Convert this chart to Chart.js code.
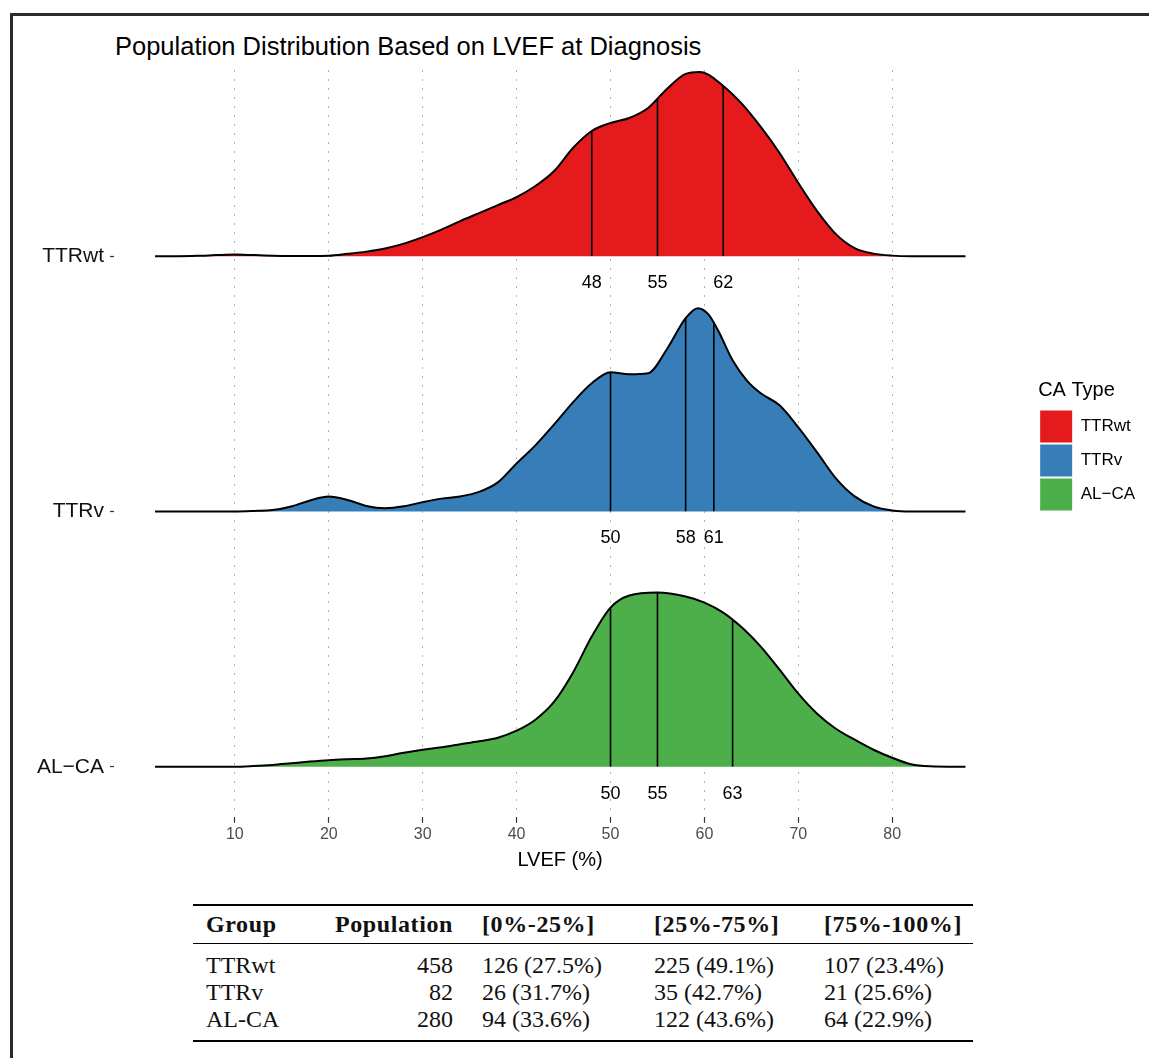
<!DOCTYPE html>
<html>
<head>
<meta charset="utf-8">
<script src="https://cdn.jsdelivr.net/npm/chart.js@4.4.1/dist/chart.umd.min.js"></script>
<style>
  html, body { margin: 0; padding: 0; background: #fff; width: 1149px; height: 1058px; overflow: hidden; }
  #frame { position: absolute; left: 10px; top: 13px; width: 2000px; height: 2000px;
           border-left: 3px solid #2b2b2b; border-top: 3px solid #2b2b2b; }
  #title { position: absolute; left: 115px; top: 34px; font: 25.5px/25px "Liberation Sans", Arial, sans-serif; color: #000; white-space: nowrap; }
  #ridges { position: absolute; left: 0; top: 0; }
  #stats { position: absolute; left: 193px; top: 904px; width: 780px; border-collapse: collapse; table-layout: fixed;
           font-family: "Liberation Serif", "Times New Roman", serif; font-size: 24px; color: #111;
           border-top: 2px solid #000; border-bottom: 2px solid #000; }
  #stats th { font-weight: bold; line-height: 37px; padding: 0; border-bottom: 1px solid #000; text-align: left; letter-spacing: 0.6px; }
  #stats td { line-height: 27px; padding: 0; white-space: nowrap; }
  #stats tbody tr:first-child td { padding-top: 8px; }
  #stats tbody tr:last-child td { padding-bottom: 7px; }
  #stats .c1 { padding-left: 13px; width: 104px; }
  #stats th.c2, #stats td.c2 { text-align: right; padding-right: 10px; width: 143px; }
  #stats .c3 { padding-left: 19px; width: 153px; }
  #stats .c4 { padding-left: 19px; width: 151px; }
  #stats .c5 { padding-left: 19px; }
</style>
</head>
<body>
<div id="frame"></div>
<div id="title">Population Distribution Based on LVEF at Diagnosis</div>
<canvas id="ridges" width="1149" height="886"></canvas>
<table id="stats"></table>
<script>
// groups, top ridge first
const groups = ['TTRwt', 'TTRv', 'AL-CA'];
const groupColors = ['#E41A1C', '#377EB8', '#4DAF4A'];
const ridgeRows = [2, 1, 0];

// density (relative units, 255 = one ridge row)
const ttrwtLvef = [1.5, 4, 6, 8, 10, 12, 14, 16, 18, 20, 22, 24, 26, 28, 30, 32, 34, 36, 38, 40, 42, 44, 46, 48, 50, 52, 54, 56, 58, 59.5, 62, 64, 66, 68, 70, 72, 74, 76, 78, 80, 82, 84, 87.8];
const ttrwtDensity = [0, 0, 0.3, 1, 1.6, 1, 0.4, 0.2, 0.2, 0.4, 2.3, 4.5, 7.7, 12.5, 19, 26.5, 35, 43, 51, 59, 70, 85, 108, 125, 133, 138, 148, 167, 182, 184, 170, 152, 129, 103, 73, 45, 22, 8, 2.5, 0.5, 0, 0, 0];
const ttrvLvef = [1.5, 6, 10, 12, 14, 16, 18, 20, 22, 24, 26, 28, 30, 32, 34, 36, 38, 40, 42, 44, 46, 48, 50, 52, 54, 56, 58, 59.3, 60.4, 61.5, 63, 64.5, 66, 68, 70, 72, 74, 76, 78, 80, 82, 87.8];
const ttrvDensity = [0, 0, 0, 0.5, 1.4, 5, 11, 15, 11.5, 5.5, 3.3, 5.2, 9.3, 12.8, 15, 19.5, 29, 48, 66, 87, 109, 128, 139, 137, 138, 162, 193, 203, 197, 180, 151, 131, 118, 106, 84, 59, 33, 15, 5, 1, 0, 0];
const alcaLvef = [1.5, 6, 10, 12, 14, 16, 18, 20, 22, 24, 26, 28, 30, 32, 34, 36, 38, 40, 42, 44, 46, 48, 50, 52, 55, 58, 60, 62, 64, 66, 68, 70, 72, 74, 76, 78, 80, 82, 84, 87.8];
const alcaDensity = [0, 0, 0, 0.7, 1.8, 3.5, 5.2, 6.6, 7.5, 8.2, 10.5, 14, 17, 19.5, 22.5, 25.5, 29, 36, 47, 65, 94, 130, 159, 171, 174, 170, 164, 154, 139, 120, 97, 73, 53, 38, 27, 17, 9, 2.5, 0.5, 0];
const densityPerRow = 255;

const ttrwtQuartiles = [48, 55, 62];
const ttrvQuartiles = [50, 58, 61];
const alcaQuartiles = [50, 55, 63];

const lvefTicks = [10, 20, 30, 40, 50, 60, 70, 80];

// table
const tableHeaders = ['Group', 'Population', '[0%-25%]', '[25%-75%]', '[75%-100%]'];
const population = [458, 82, 280];
const lowerCounts = [126, 26, 94];
const middleCounts = [225, 35, 122];
const upperCounts = [107, 21, 64];

const ridges = [
  {lvef: ttrwtLvef, density: ttrwtDensity, quartiles: ttrwtQuartiles},
  {lvef: ttrvLvef, density: ttrvDensity, quartiles: ttrvQuartiles},
  {lvef: alcaLvef, density: alcaDensity, quartiles: alcaQuartiles}
];

// the plot device prints the hyphen as a minus sign
const plotLabel = g => g.replace('-', '\u2212');

const datasets = ridges.map((r, i) => ({
  label: groups[i],
  data: r.lvef.map((v, j) => ({x: v, y: ridgeRows[i] + r.density[j] / densityPerRow})),
  fill: {value: ridgeRows[i]},
  backgroundColor: groupColors[i],
  borderColor: '#000',
  borderWidth: 2,
  pointRadius: 0,
  cubicInterpolationMode: 'monotone'
}));

const FONT = '"Liberation Sans", Arial, sans-serif';
Chart.defaults.font.family = FONT;

// quartile lines clipped to each ridge, with their labels underneath
const quartileLines = {
  id: 'quartileLines',
  afterDatasetsDraw(chart) {
    const {ctx, chartArea} = chart;
    const xs = chart.scales.x, ys = chart.scales.y;
    ridges.forEach((r, i) => {
      const meta = chart.getDatasetMeta(i);
      const pts = meta.data;
      const base = ys.getPixelForValue(ridgeRows[i]);
      ctx.save();
      ctx.beginPath();
      meta.dataset.path(ctx);
      ctx.lineTo(pts[pts.length - 1].x, base);
      ctx.lineTo(pts[0].x, base);
      ctx.closePath();
      ctx.clip();
      ctx.strokeStyle = '#000';
      ctx.lineWidth = 1.6;
      r.quartiles.forEach(q => {
        const px = xs.getPixelForValue(q);
        ctx.beginPath();
        ctx.moveTo(px, base);
        ctx.lineTo(px, chartArea.top);
        ctx.stroke();
      });
      ctx.restore();

      ctx.save();
      ctx.font = '18px ' + FONT;
      ctx.fillStyle = '#000';
      ctx.textAlign = 'center';
      ctx.textBaseline = 'middle';
      r.quartiles.forEach(q => ctx.fillText(String(q), xs.getPixelForValue(q), base + 27));
      ctx.restore();
    });
  }
};

new Chart(document.getElementById('ridges'), {
  type: 'line',
  data: {datasets: datasets},
  plugins: [quartileLines],
  options: {
    responsive: false,
    animation: false,
    events: [],
    layout: {padding: {left: 0, top: 70, right: 4, bottom: 10}},
    scales: {
      x: {
        type: 'linear',
        min: -2.87,
        max: 92.13,
        afterBuildTicks: s => { s.ticks = lvefTicks.map(v => ({value: v})); },
        grid: {
          color: '#b3b3b3',
          lineWidth: 1,
          tickLength: 6,
          tickColor: '#333',
          tickWidth: 1.2,
          tickBorderDash: []
        },
        border: {display: false, dash: [2, 7]},
        ticks: {color: '#4d4d4d', font: {size: 16}, padding: 2, maxRotation: 0},
        title: {display: true, text: 'LVEF (%)', color: '#000', font: {size: 20}, padding: {top: 2, bottom: 4}}
      },
      y: {
        type: 'linear',
        min: -0.196,
        max: 2.729,
        afterBuildTicks: s => { s.ticks = ridgeRows.map(v => ({value: v})); },
        afterFit: s => { s.width = 114; },
        grid: {drawOnChartArea: false, tickLength: 4, tickColor: '#333', tickWidth: 1.2},
        border: {display: false},
        ticks: {
          color: '#111',
          font: {size: 21},
          padding: 6,
          callback: v => plotLabel(groups[ridgeRows.indexOf(v)])
        }
      },
      // empty spacer between the panel and the legend
      gap: {
        axis: 'y',
        position: 'right',
        grid: {display: false, drawTicks: false},
        border: {display: false},
        ticks: {display: false},
        afterFit: s => { s.width = 32; }
      }
    },
    plugins: {
      tooltip: {enabled: false},
      legend: {
        position: 'right',
        fullSize: false,
        align: 'center',
        title: {display: true, text: 'CA Type', color: '#000', font: {size: 20}, position: 'start', padding: {top: 6, bottom: 4}},
        labels: {
          boxWidth: 32,
          boxHeight: 32,
          padding: 2,
          color: '#000',
          font: {size: 17},
          generateLabels: () => groups.map((g, i) => ({
            text: plotLabel(g), fillStyle: groupColors[i], strokeStyle: 'rgba(0,0,0,0)', lineWidth: 0, hidden: false, datasetIndex: i
          }))
        }
      }
    }
  }
});

// summary table
const pct = (n, d) => (100 * n / d).toFixed(1) + '%';
const table = document.getElementById('stats');
let html = '<thead><tr>' + tableHeaders.map((h, i) => '<th class="c' + (i + 1) + '">' + h + '</th>').join('') + '</tr></thead><tbody>';
groups.forEach((g, i) => {
  html += '<tr><td class="c1">' + g + '</td><td class="c2">' + population[i] + '</td>' +
    '<td class="c3">' + lowerCounts[i] + ' (' + pct(lowerCounts[i], population[i]) + ')</td>' +
    '<td class="c4">' + middleCounts[i] + ' (' + pct(middleCounts[i], population[i]) + ')</td>' +
    '<td class="c5">' + upperCounts[i] + ' (' + pct(upperCounts[i], population[i]) + ')</td></tr>';
});
table.innerHTML = html + '</tbody>';
</script>
</body>
</html>
